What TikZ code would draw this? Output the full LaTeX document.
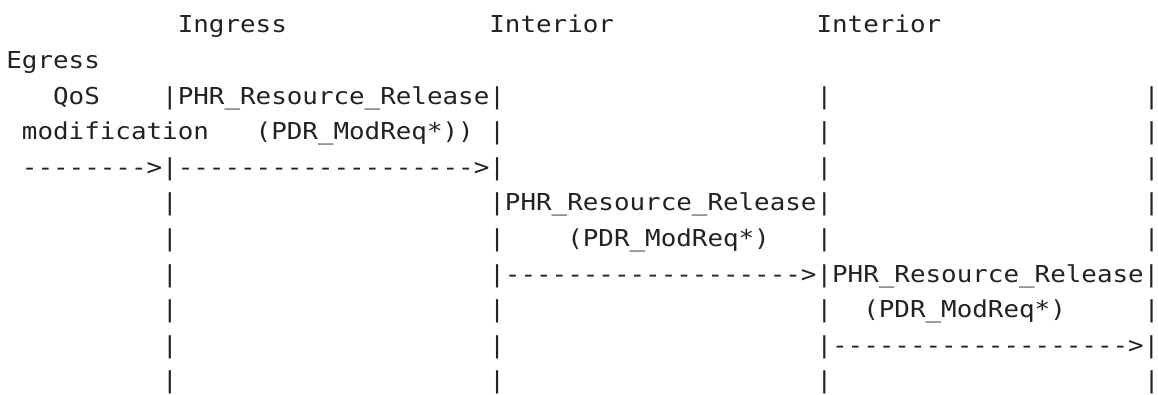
\documentclass[tikz,border=0pt]{standalone}
\usepackage{fontspec}
\usepackage{graphicx}
\setmonofont{DejaVu Sans Mono}
\definecolor{ink}{RGB}{34,34,34}

% character grid of the ASCII flow: column width and line pitch (in pt)
\newcommand{\colw}{15.58}
\newcommand{\rowh}{35.6}
\newcommand{\xorg}{6.4}
\newcommand{\yorg}{32.8}

\tikzset{
  ascii/.style={anchor=base west, inner sep=0pt, outer sep=0pt, text=ink,
    font=\ttfamily\fontsize{25.88}{30}\selectfont},
}

% \cell{name}{row}{column}{text}
\newcommand{\cell}[4]{%
  \node[ascii] (#1) at ({\xorg+#3*\colw},{\yorg+#2*\rowh}) {\scalebox{1}[0.9]{#4}};}

\begin{document}
\begin{tikzpicture}[x=1pt,y=-1pt]
\useasboundingbox (0,0) rectangle (1158,394);

% node headings
\cell{hIngress}{0}{11}{Ingress}
\cell{hInteriorA}{0}{31}{Interior}
\cell{hInteriorB}{0}{52}{Interior}
\cell{hEgress}{1}{0}{Egress}

% QoS modification entering the ingress node
\cell{qos}{2}{3}{QoS}
\cell{relA}{2}{10}{|PHR\_Resource\_Release|}
\cell{r2c}{2}{52}{|}
\cell{r2d}{2}{73}{|}

\cell{modif}{3}{1}{modification}
\cell{modA}{3}{16}{(PDR\_ModReq*))}
\cell{r3b}{3}{31}{|}
\cell{r3c}{3}{52}{|}
\cell{r3d}{3}{73}{|}

\cell{arrA}{4}{1}{-------->|------------------->|}
\cell{r4c}{4}{52}{|}
\cell{r4d}{4}{73}{|}

% ingress -> first interior
\cell{r5a}{5}{10}{|}
\cell{relB}{5}{31}{|PHR\_Resource\_Release|}
\cell{r5d}{5}{73}{|}

\cell{r6a}{6}{10}{|}
\cell{r6b}{6}{31}{|}
\cell{modB}{6}{36}{(PDR\_ModReq*)}
\cell{r6c}{6}{52}{|}
\cell{r6d}{6}{73}{|}

% first interior -> second interior
\cell{r7a}{7}{10}{|}
\cell{arrB}{7}{31}{|------------------->|PHR\_Resource\_Release|}

\cell{r8a}{8}{10}{|}
\cell{r8b}{8}{31}{|}
\cell{r8c}{8}{52}{|}
\cell{modC}{8}{55}{(PDR\_ModReq*)}
\cell{r8d}{8}{73}{|}

% second interior -> egress
\cell{r9a}{9}{10}{|}
\cell{r9b}{9}{31}{|}
\cell{arrC}{9}{52}{|------------------->|}

\cell{r10a}{10}{10}{|}
\cell{r10b}{10}{31}{|}
\cell{r10c}{10}{52}{|}
\cell{r10d}{10}{73}{|}
\end{tikzpicture}
\end{document}
